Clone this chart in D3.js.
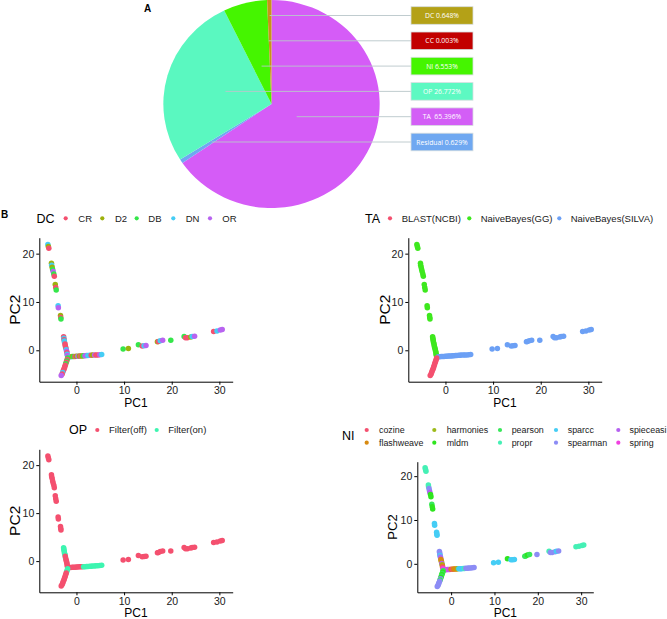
<!DOCTYPE html>
<html><head><meta charset="utf-8">
<script src="https://cdn.jsdelivr.net/npm/d3@7"></script>
<style>body{margin:0;background:#fff}svg{display:block}text{font-family:"Liberation Sans",Arial,Helvetica,sans-serif}</style>
</head><body><svg id="c" width="667" height="619"></svg>
<script>
// ---------- Panel A data (pie) ----------
const pieLabels = ["TA","Residual","OP","NI","CC","DC"];
const pieValues = [65.396,0.629,26.772,6.553,0.003,0.648];
const pieColors = ["#D55CF7","#6FA8F1","#5AF8C0","#45F500","#C20000","#C8921A"];
const boxLabels = ["DC","CC","NI","OP","TA","Residual"];
const boxTexts = ["DC 0.648%","CC 0.003%","NI 6.553%","OP 26.772%","TA  65.396%","Residual 0.629%"];
const boxColors = ["#B4A117","#C20000","#45F500","#5DF9C2","#D35EF6","#6FA8F1"];

// ---------- Panel B categories ----------
const dcLevels = ["CR","D2","DB","DN","OR"];
const dcColors = ["#F4506F","#9DB10C","#35E64A","#45CDF5","#B863F0"];
const taLevels = ["BLAST(NCBI)","NaiveBayes(GG)","NaiveBayes(SILVA)"];
const taColors = ["#F4506F","#3EE81E","#6CA0F5"];
const opLevels = ["Filter(off)","Filter(on)"];
const opColors = ["#F4506F","#3DF5B0"];
const niLevels = ["cozine","flashweave","harmonies","mldm","pearson","propr","sparcc","spearman","spieceasi","spring"];
const niColors = ["#F4506F","#D88A10","#9DBA1A","#2EE51E","#38E85A","#45F0B5","#45CDF5","#8C8CF5","#B560F0","#F040E0"];
const xTicks = [0,10,20,30];
const yTicks = [0,10,20];

// ---------- Panel B points: [PC1, PC2, DC, TA, OP, NI] ----------
const armGGFar = [
 [-6.0,21.9,"DN","NaiveBayes(GG)","Filter(off)","propr"],
 [-5.9,21.5,"D2","NaiveBayes(GG)","Filter(off)","propr"],
 [-5.8,21.1,"CR","NaiveBayes(GG)","Filter(off)","propr"],
 [-5.25,18.0,"D2","NaiveBayes(GG)","Filter(off)","propr"],
 [-5.2,17.6,"DN","NaiveBayes(GG)","Filter(off)","propr"],
 [-5.1,17.2,"D2","NaiveBayes(GG)","Filter(off)","spearman"],
 [-5.0,16.7,"DB","NaiveBayes(GG)","Filter(off)","spearman"],
 [-4.9,16.3,"OR","NaiveBayes(GG)","Filter(off)","spieceasi"],
 [-4.75,15.8,"DB","NaiveBayes(GG)","Filter(off)","mldm"],
 [-4.65,15.3,"CR","NaiveBayes(GG)","Filter(off)","mldm"],
 [-4.45,13.6,"D2","NaiveBayes(GG)","Filter(off)","pearson"],
 [-4.35,13.0,"CR","NaiveBayes(GG)","Filter(off)","mldm"],
 [-4.25,12.5,"DB","NaiveBayes(GG)","Filter(off)","mldm"],
 [-3.85,9.2,"DN","NaiveBayes(GG)","Filter(off)","sparcc"],
 [-3.8,8.8,"OR","NaiveBayes(GG)","Filter(off)","sparcc"],
 [-3.35,7.2,"D2","NaiveBayes(GG)","Filter(off)","sparcc"],
 [-3.3,6.8,"CR","NaiveBayes(GG)","Filter(off)","sparcc"],
 [-3.25,6.5,"DB","NaiveBayes(GG)","Filter(off)","sparcc"]
];
const armGGNear = [
 [-2.7,2.8,"CR","NaiveBayes(GG)","Filter(on)","spearman"],
 [-2.65,2.5,"DN","NaiveBayes(GG)","Filter(on)","spearman"],
 [-2.6,2.2,"CR","NaiveBayes(GG)","Filter(on)","spearman"],
 [-2.55,1.9,"DN","NaiveBayes(GG)","Filter(on)","sparcc"],
 [-2.5,1.6,"DN","NaiveBayes(GG)","Filter(on)","spearman"],
 [-2.4,1.3,"CR","NaiveBayes(GG)","Filter(on)","spieceasi"],
 [-2.3,0.7,"DN","NaiveBayes(GG)","Filter(on)","harmonies"],
 [-2.35,1.0,"CR","NaiveBayes(GG)","Filter(off)","flashweave"],
 [-2.2,0.4,"CR","NaiveBayes(GG)","Filter(off)","flashweave"],
 [-2.15,0.1,"DN","NaiveBayes(GG)","Filter(off)","spieceasi"],
 [-2.05,-0.2,"OR","NaiveBayes(GG)","Filter(off)","harmonies"],
 [-2.0,-0.5,"CR","NaiveBayes(GG)","Filter(off)","flashweave"],
 [-1.95,-0.8,"DN","NaiveBayes(GG)","Filter(off)","cozine"],
 [-1.9,-1.1,"OR","NaiveBayes(GG)","Filter(off)","spring"]
];
const armBLAST = [
 [-1.85,-1.6,"DB","BLAST(NCBI)","Filter(on)","pearson"],
 [-1.95,-1.9,"CR","BLAST(NCBI)","Filter(on)","mldm"],
 [-2.05,-2.2,"DB","BLAST(NCBI)","Filter(on)","pearson"],
 [-2.15,-2.5,"CR","BLAST(NCBI)","Filter(off)","mldm"],
 [-2.25,-2.8,"DB","BLAST(NCBI)","Filter(off)","pearson"],
 [-2.35,-3.1,"CR","BLAST(NCBI)","Filter(off)","mldm"],
 [-2.45,-3.4,"CR","BLAST(NCBI)","Filter(off)","spearman"],
 [-2.55,-3.7,"CR","BLAST(NCBI)","Filter(off)","pearson"],
 [-2.65,-4.0,"CR","BLAST(NCBI)","Filter(off)","spearman"],
 [-2.8,-4.3,"CR","BLAST(NCBI)","Filter(off)","spearman"],
 [-2.9,-4.6,"DN","BLAST(NCBI)","Filter(off)","spearman"],
 [-3.0,-4.9,"CR","BLAST(NCBI)","Filter(off)","spearman"],
 [-3.2,-5.2,"OR","BLAST(NCBI)","Filter(off)","spearman"]
];
const armSILVANear = [
 [-1.5,-1.35,"OR","NaiveBayes(SILVA)","Filter(off)","spring"],
 [-1.2,-1.35,"DN","NaiveBayes(SILVA)","Filter(off)","spieceasi"],
 [-0.9,-1.3,"D2","NaiveBayes(SILVA)","Filter(off)","spieceasi"],
 [-0.6,-1.3,"DB","NaiveBayes(SILVA)","Filter(off)","spring"],
 [-0.3,-1.3,"CR","NaiveBayes(SILVA)","Filter(off)","spieceasi"],
 [0.0,-1.25,"D2","NaiveBayes(SILVA)","Filter(off)","flashweave"],
 [0.3,-1.25,"OR","NaiveBayes(SILVA)","Filter(off)","cozine"],
 [0.6,-1.2,"D2","NaiveBayes(SILVA)","Filter(off)","flashweave"],
 [0.9,-1.2,"CR","NaiveBayes(SILVA)","Filter(off)","flashweave"],
 [1.2,-1.2,"D2","NaiveBayes(SILVA)","Filter(off)","flashweave"],
 [1.5,-1.15,"DB","NaiveBayes(SILVA)","Filter(on)","harmonies"],
 [1.8,-1.15,"OR","NaiveBayes(SILVA)","Filter(on)","sparcc"],
 [2.1,-1.1,"OR","NaiveBayes(SILVA)","Filter(on)","sparcc"],
 [2.4,-1.1,"DN","NaiveBayes(SILVA)","Filter(on)","sparcc"],
 [2.8,-1.05,"DN","NaiveBayes(SILVA)","Filter(on)","sparcc"],
 [3.1,-1.05,"CR","NaiveBayes(SILVA)","Filter(on)","propr"],
 [3.4,-1.0,"D2","NaiveBayes(SILVA)","Filter(on)","spearman"],
 [3.8,-1.0,"OR","NaiveBayes(SILVA)","Filter(on)","spearman"],
 [4.1,-0.95,"CR","NaiveBayes(SILVA)","Filter(on)","spearman"],
 [4.5,-0.95,"CR","NaiveBayes(SILVA)","Filter(on)","spearman"],
 [4.9,-0.9,"OR","NaiveBayes(SILVA)","Filter(on)","spearman"],
 [5.3,-0.85,"DN","NaiveBayes(SILVA)","Filter(on)","spearman"]
];
const armSILVAFar = [
 [9.8,0.25,"DB","NaiveBayes(SILVA)","Filter(off)","sparcc"],
 [10.9,0.35,"D2","NaiveBayes(SILVA)","Filter(off)","sparcc"],
 [13.0,1.15,"DB","NaiveBayes(SILVA)","Filter(off)","mldm"],
 [13.8,0.9,"CR","NaiveBayes(SILVA)","Filter(off)","sparcc"],
 [14.2,0.95,"DN","NaiveBayes(SILVA)","Filter(off)","sparcc"],
 [14.6,1.0,"OR","NaiveBayes(SILVA)","Filter(off)","sparcc"],
 [17.0,1.75,"D2","NaiveBayes(SILVA)","Filter(off)","pearson"],
 [17.2,1.8,"CR","NaiveBayes(SILVA)","Filter(off)","pearson"],
 [17.6,2.0,"DN","NaiveBayes(SILVA)","Filter(off)","mldm"],
 [18.1,2.1,"OR","NaiveBayes(SILVA)","Filter(off)","pearson"],
 [19.8,2.1,"DB","NaiveBayes(SILVA)","Filter(off)","spearman"],
 [22.6,2.85,"DB","NaiveBayes(SILVA)","Filter(off)","propr"],
 [22.9,2.6,"CR","NaiveBayes(SILVA)","Filter(off)","spearman"],
 [23.3,2.6,"CR","NaiveBayes(SILVA)","Filter(off)","spearman"],
 [24.0,2.75,"D2","NaiveBayes(SILVA)","Filter(off)","spearman"],
 [24.3,2.85,"DN","NaiveBayes(SILVA)","Filter(off)","sparcc"],
 [24.8,2.9,"OR","NaiveBayes(SILVA)","Filter(off)","spearman"],
 [28.8,3.9,"CR","NaiveBayes(SILVA)","Filter(off)","propr"],
 [29.5,4.0,"DN","NaiveBayes(SILVA)","Filter(off)","propr"],
 [30.2,4.2,"OR","NaiveBayes(SILVA)","Filter(off)","propr"],
 [30.6,4.3,"OR","NaiveBayes(SILVA)","Filter(off)","propr"]
];
const points = [].concat(armGGFar, armGGNear, armSILVAFar, armSILVANear, armBLAST);

const svg = d3.select("#c");

// ---------- Panel A ----------
const cx = 271.5, cy = 104, ry = 104, sx = 1.04;
const pieGen = d3.pie().sort(null).value(d => d)(pieValues);
const gPie = svg.append("g").attr("transform", `translate(${cx},${cy}) scale(${sx},1)`);
gPie.selectAll("path").data(pieGen).join("path")
  .attr("d", d3.arc().innerRadius(0).outerRadius(ry))
  .attr("fill", (d,i) => pieColors[i]);

svg.append("text").attr("x",144).attr("y",12).attr("font-size",10).attr("font-weight","bold").text("A");
const boxX = 411, boxW = 62, boxH = 17.6, boxY0 = 6.7, boxStep = 25.3;
boxLabels.forEach((lab, j) => {
  const by = boxY0 + j*boxStep, ly = by + boxH/2;
  const s = pieGen[pieLabels.indexOf(lab)];
  const mid = (s.startAngle + s.endAngle)/2;
  const dy = -Math.cos(mid);
  const t = (ly - cy)/(dy*ry);
  const lx = cx + Math.sin(mid)*ry*t*sx;
  svg.append("line").attr("x1",lx).attr("x2",boxX).attr("y1",ly).attr("y2",ly)
    .attr("stroke","#B9C6CA").attr("stroke-width",0.9);
  svg.append("rect").attr("x",boxX).attr("y",by).attr("width",boxW).attr("height",boxH)
    .attr("fill",boxColors[j]).attr("stroke","#D8DEE0").attr("stroke-width",0.8);
  svg.append("text").attr("x",boxX+boxW/2).attr("y",ly+2.5).attr("text-anchor","middle")
    .attr("font-size",6.8).attr("fill","#fff").style("font-family","'Open Sans',Lato,sans-serif")
    .attr("xml:space","preserve").text(boxTexts[j]);
});

// ---------- Panel B ----------
svg.append("text").attr("x",1).attr("y",218).attr("font-size",10).attr("font-weight","bold").text("B");
const fieldIdx = {DC:2, TA:3, OP:4, NI:5};
const panels = [
 {name:"DC", levels:dcLevels, colors:dcColors, x0:39.3, x1:232.7, y0:237.7, y1:381.7, ylabX:14, ylabSize:15.5, legSize:9.5,
  titleX:36.5, titleY:218.3, items:[[65.7,78.3,218.3],[102.3,115,218.3],[136.7,148.3,218.3],[173.3,185.7,218.3],[210,222.3,218.3]]},
 {name:"TA", levels:taLevels, colors:taColors, x0:408.3, x1:601.7, y0:237.7, y1:381.7, ylabX:384, ylabSize:15.5, legSize:9.5,
  titleX:365, titleY:218.3, items:[[390,401.7,218.3],[469.3,480.7,218.3],[559.3,570.7,218.3]]},
 {name:"OP", levels:opLevels, colors:opColors, x0:39.3, x1:232.7, y0:449.3, y1:592.3, ylabX:14, ylabSize:15.5, legSize:9.5,
  titleX:69, titleY:430, items:[[97.3,109,430],[156.7,168.3,430]]},
 {name:"NI", levels:niLevels, colors:niColors, x0:417.3, x1:593.3, y0:461.7, y1:592.3, ylabX:391, ylabSize:13, legSize:8.9,
  titleX:342, titleY:436, items:[[366.7,379,430],[366.7,379,442.7],[434.3,446.7,430],[434.3,446.7,442.7],
   [500,511.7,430],[500,511.7,442.7],[556,567.7,430],[556,567.7,442.7],[618.3,629.5,430],[618.3,629.5,442.7]]}
];

panels.forEach(p => {
  const g = svg.append("g");
  const x = d3.scaleLinear().domain([-7.8,32.8]).range([p.x0,p.x1]);
  const y = d3.scaleLinear().domain([-6.5,23.3]).range([p.y1,p.y0]);
  const color = d3.scaleOrdinal().domain(p.levels).range(p.colors);
  const fi = fieldIdx[p.name];
  g.append("g").selectAll("circle").data(points).join("circle")
    .attr("cx", d => x(d[0])).attr("cy", d => y(d[1])).attr("r", 2.75)
    .attr("fill", d => color(d[fi]));
  const xa = g.append("g").attr("transform",`translate(0,${p.y1})`)
    .call(d3.axisBottom(x).tickValues(xTicks).tickSize(3).tickPadding(2).tickSizeOuter(0));
  const ya = g.append("g").attr("transform",`translate(${p.x0},0)`)
    .call(d3.axisLeft(y).tickValues(yTicks).tickSize(3).tickPadding(2).tickSizeOuter(0));
  [xa, ya].forEach(a => {
    a.select(".domain").attr("stroke","#000").attr("stroke-width",1);
    a.selectAll(".tick line").attr("stroke","#000");
    a.selectAll("text").attr("font-size",10.5).attr("fill","#1a1a1a").style("font-family","'Liberation Sans',Arial,sans-serif");
  });
  g.append("text").attr("x",(p.x0+p.x1)/2).attr("y",p.y1+25).attr("text-anchor","middle")
    .attr("font-size",12).text("PC1");
  g.append("text").attr("transform",`translate(${p.ylabX+5.5},${(p.y0+p.y1)/2}) rotate(-90)`)
    .attr("text-anchor","middle").attr("font-size",p.ylabSize).text("PC2");
  // legend
  g.append("text").attr("x",p.titleX).attr("y",p.titleY+4.3).attr("font-size",12.5).text(p.name);
  p.levels.forEach((lv,i) => {
    const it = p.items[i];
    g.append("circle").attr("cx",it[0]).attr("cy",it[2]).attr("r",2.1).attr("fill",color(lv));
    g.append("text").attr("x",it[1]).attr("y",it[2]+3.3).attr("font-size",p.legSize).attr("fill","#1a1a1a").text(lv);
  });
});
</script></body></html>
